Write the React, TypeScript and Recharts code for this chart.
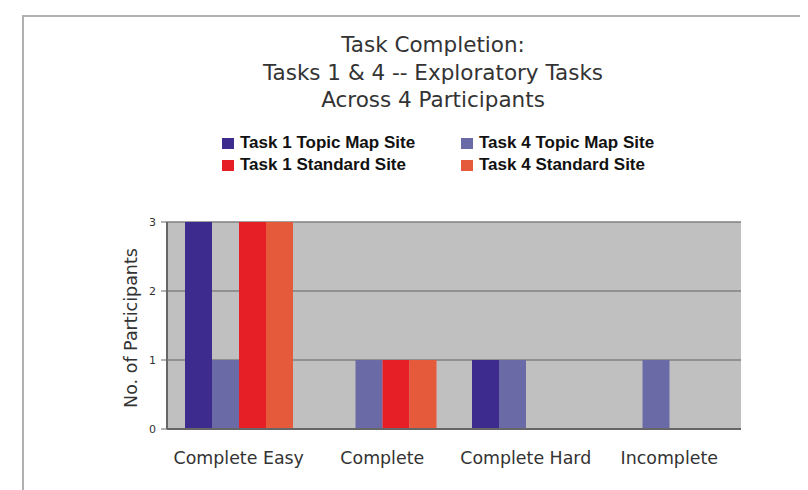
import React from "react";
import { BarChart, Bar, XAxis, YAxis, CartesianGrid } from "recharts";

const categories = ["Complete Easy", "Complete", "Complete Hard", "Incomplete"];
const task1TopicMap = [3, 0, 1, 0];
const task4TopicMap = [1, 1, 1, 1];
const task1Standard = [3, 1, 0, 0];
const task4Standard = [3, 1, 0, 0];
const yTicks = [0, 1, 2, 3];
const titleLines = ["Task Completion:", "Tasks 1 & 4 -- Exploratory Tasks", "Across 4 Participants"];

const series = [
  { key: "t1tm", name: "Task 1 Topic Map Site", color: "#3d2b8e", values: task1TopicMap },
  { key: "t4tm", name: "Task 4 Topic Map Site", color: "#6a6aa6", values: task4TopicMap },
  { key: "t1st", name: "Task 1 Standard Site", color: "#e61f26", values: task1Standard },
  { key: "t4st", name: "Task 4 Standard Site", color: "#e65a3c", values: task4Standard },
];

const data = categories.map((c, i) => {
  const row: Record<string, any> = { category: c };
  series.forEach((s) => (row[s.key] = s.values[i]));
  return row;
});

const legendOrder = [
  [series[0], series[1]],
  [series[2], series[3]],
];

const FONT = "'DejaVu Sans', Verdana, sans-serif";

export default function App() {
  return (
    <div style={{ position: "relative", width: 800, height: 482, overflow: "hidden", background: "#fff" }}>
      <div
        style={{
          position: "absolute",
          left: 14,
          top: 7,
          width: 900,
          height: 600,
          border: "2px solid #b0b0b0",
          boxSizing: "border-box",
        }}
      />
      <div
        style={{
          position: "absolute",
          left: 225,
          top: 23,
          width: 400,
          textAlign: "center",
          fontFamily: FONT,
          fontSize: 21.5,
          lineHeight: "27.5px",
          color: "#333",
          whiteSpace: "nowrap",
        }}
      >
        {titleLines.map((t) => (
          <div key={t}>{t}</div>
        ))}
      </div>
      {legendOrder.map((row, r) =>
        row.map((s, c) => (
          <div
            key={s.key}
            style={{
              position: "absolute",
              left: c === 0 ? 214 : 453,
              top: 126 + r * 22,
              height: 18,
              display: "flex",
              alignItems: "center",
              fontFamily: "'Liberation Sans', Arial, sans-serif",
              fontWeight: "bold",
              fontSize: 17,
              color: "#111",
              whiteSpace: "nowrap",
            }}
          >
            <span style={{ display: "inline-block", width: 12, height: 11, background: s.color, marginRight: 6 }} />
            {s.name}
          </div>
        ))
      )}
      <div
        style={{
          position: "absolute",
          left: 123,
          top: 320,
          transform: "translate(-50%, -50%) rotate(-90deg)",
          fontFamily: FONT,
          fontSize: 17.5,
          color: "#333",
          whiteSpace: "nowrap",
        }}
      >
        No. of Participants
      </div>
      <div style={{ position: "absolute", left: 0, top: 0 }}>
        <BarChart
          width={800}
          height={482}
          data={data}
          margin={{ top: 214, right: 67, bottom: 16, left: 119 }}
          barSize={27}
          barGap={0}
        >
          <CartesianGrid vertical={false} fill="#c0c0c0" stroke="#808080" strokeWidth={1.5} />
          <XAxis
            dataKey="category"
            height={45}
            tickLine={false}
            tickMargin={17}
            axisLine={{ stroke: "#666", strokeWidth: 2 }}
            tick={{ fill: "#333", fontSize: 17.4, fontFamily: FONT }}
            interval={0}
          />
          <YAxis
            width={40}
            domain={[0, 3]}
            ticks={yTicks}
            tickSize={6}
            tickMargin={5}
            axisLine={{ stroke: "#666", strokeWidth: 2 }}
            tickLine={{ stroke: "#666" }}
            tick={{ fill: "#333", fontSize: 11, fontFamily: FONT }}
          />
          <YAxis
            yAxisId="right"
            orientation="right"
            width={0}
            tick={false}
            tickLine={false}
            axisLine={{ stroke: "#999", strokeWidth: 2 }}
          />
          {series.map((s) => (
            <Bar key={s.key} dataKey={s.key} name={s.name} fill={s.color} isAnimationActive={false} />
          ))}
        </BarChart>
      </div>
    </div>
  );
}
